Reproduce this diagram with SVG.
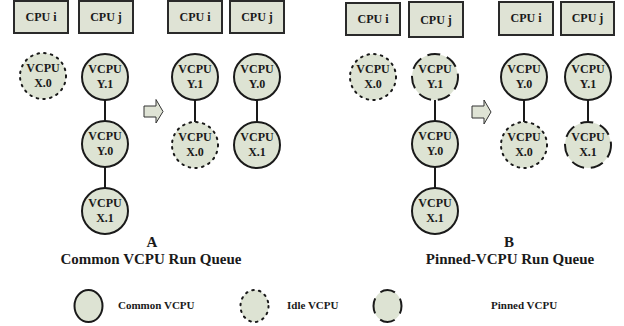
<svg xmlns="http://www.w3.org/2000/svg" width="624" height="326" viewBox="0 0 624 326">
<style>
.cpu rect{fill:#dfe3d5;stroke:#2a2a2a;stroke-width:2}
.t{font-family:"Liberation Serif","Times New Roman",serif;font-weight:bold;fill:#1a1a1a}
.cpu text{font-size:12px;text-anchor:middle}
.v circle,.v ellipse{fill:#dde3d3;stroke:#1a1a1a;stroke-width:2}
.idle circle,.idle ellipse{stroke-dasharray:1.6 5.2;stroke-linecap:round}
.pin circle,.pin ellipse{stroke-dasharray:13 7}
.v text{font-size:12px;text-anchor:middle}
.v text.leg{font-size:11px;text-anchor:start}
.conn line{stroke:#1a1a1a;stroke-width:2}
.arrow{fill:#dfe3d5;stroke:#333;stroke-width:1}
.title{font-size:15px;text-anchor:middle}
</style>
<rect width="624" height="326" fill="#fff"/>
<!-- CPU boxes -->
<g id="a-cpu-i-1" class="cpu"><rect x="14" y="1" width="54" height="32"/><text class="t" x="41" y="21">CPU i</text></g>
<g id="a-cpu-j-1" class="cpu"><rect x="79" y="1" width="54" height="32"/><text class="t" x="106" y="21">CPU j</text></g>
<g id="a-cpu-i-2" class="cpu"><rect x="168" y="1" width="54" height="32"/><text class="t" x="195" y="21">CPU i</text></g>
<g id="a-cpu-j-2" class="cpu"><rect x="230" y="1" width="54" height="32"/><text class="t" x="257" y="21">CPU j</text></g>
<g id="b-cpu-i-1" class="cpu"><rect x="346" y="3" width="54" height="32"/><text class="t" x="373" y="23">CPU i</text></g>
<g id="b-cpu-j-1" class="cpu"><rect x="409" y="2" width="54" height="35"/><text class="t" x="436" y="24">CPU j</text></g>
<g id="b-cpu-i-2" class="cpu"><rect x="499" y="2" width="54" height="33"/><text class="t" x="526" y="22">CPU i</text></g>
<g id="b-cpu-j-2" class="cpu"><rect x="561" y="2" width="53" height="33"/><text class="t" x="587.5" y="22">CPU j</text></g>
<!-- connectors -->
<g id="connectors" class="conn">
<line x1="105" y1="100" x2="105" y2="121"/>
<line x1="105" y1="167" x2="105" y2="188"/>
<line x1="195" y1="100" x2="195" y2="122"/>
<line x1="257" y1="100" x2="257" y2="122"/>
<line x1="435" y1="100" x2="435" y2="121"/>
<line x1="435" y1="167" x2="435" y2="188"/>
<line x1="524" y1="100" x2="524" y2="122"/>
<line x1="588" y1="100" x2="588" y2="122"/>
</g>
<!-- arrows -->
<g id="arrow-a"><path class="arrow" d="M144,106 H156 V99.5 L163,111.5 L156,123 V117 H144 Z"/></g>
<g id="arrow-b"><path class="arrow" d="M472,106 H484 V100 L491,112 L484,124 V118 H472 Z"/></g>
<!-- A nodes -->
<g id="a-x0-idle" class="v idle"><circle cx="43" cy="76" r="23"/><text class="t" x="43" y="72">VCPU</text><text class="t" x="43" y="87">X.0</text></g>
<g id="a-y1" class="v"><circle cx="105" cy="77" r="23"/><text class="t" x="105" y="73">VCPU</text><text class="t" x="105" y="88">Y.1</text></g>
<g id="a-y0" class="v"><circle cx="105" cy="144" r="23"/><text class="t" x="105" y="140">VCPU</text><text class="t" x="105" y="155">Y.0</text></g>
<g id="a-x1" class="v"><circle cx="105" cy="211" r="23"/><text class="t" x="105" y="207">VCPU</text><text class="t" x="105" y="222">X.1</text></g>
<g id="a-y1-r" class="v"><circle cx="195" cy="77" r="23"/><text class="t" x="195" y="73">VCPU</text><text class="t" x="195" y="88">Y.1</text></g>
<g id="a-y0-r" class="v"><circle cx="257" cy="77" r="23"/><text class="t" x="257" y="73">VCPU</text><text class="t" x="257" y="88">Y.0</text></g>
<g id="a-x0-r-idle" class="v idle"><circle cx="195" cy="145" r="23"/><text class="t" x="195" y="141">VCPU</text><text class="t" x="195" y="156">X.0</text></g>
<g id="a-x1-r" class="v"><circle cx="257" cy="145" r="23"/><text class="t" x="257" y="141">VCPU</text><text class="t" x="257" y="156">X.1</text></g>
<!-- B nodes -->
<g id="b-x0-idle" class="v idle"><circle cx="373" cy="77" r="23"/><text class="t" x="373" y="73">VCPU</text><text class="t" x="373" y="88">X.0</text></g>
<g id="b-y1-pin" class="v pin"><circle cx="435" cy="77" r="23"/><text class="t" x="435" y="73">VCPU</text><text class="t" x="435" y="88">Y.1</text></g>
<g id="b-y0" class="v"><circle cx="435" cy="144" r="23"/><text class="t" x="435" y="140">VCPU</text><text class="t" x="435" y="155">Y.0</text></g>
<g id="b-x1" class="v"><circle cx="435" cy="211" r="23"/><text class="t" x="435" y="207">VCPU</text><text class="t" x="435" y="222">X.1</text></g>
<g id="b-y0-r" class="v"><circle cx="524" cy="77" r="23"/><text class="t" x="524" y="73">VCPU</text><text class="t" x="524" y="88">Y.0</text></g>
<g id="b-y1-r" class="v"><circle cx="588" cy="77" r="23"/><text class="t" x="588" y="73">VCPU</text><text class="t" x="588" y="88">Y.1</text></g>
<g id="b-x0-r-idle" class="v idle"><circle cx="524" cy="145" r="23"/><text class="t" x="524" y="141">VCPU</text><text class="t" x="524" y="156">X.0</text></g>
<g id="b-x1-r-pin" class="v pin"><circle cx="588" cy="145" r="23"/><text class="t" x="588" y="141">VCPU</text><text class="t" x="588" y="156">X.1</text></g>
<!-- titles -->
<g id="title-a"><text class="t title" x="152" y="247">A</text><text class="t title" x="151" y="264">Common VCPU Run Queue</text></g>
<g id="title-b"><text class="t title" x="509" y="247">B</text><text class="t title" x="510" y="264">Pinned-VCPU Run Queue</text></g>
<!-- legend -->
<g id="legend-common" class="v"><ellipse cx="88.5" cy="306" rx="14" ry="16"/><text class="t leg" x="118" y="309">Common VCPU</text></g>
<g id="legend-idle" class="v idle"><ellipse cx="254.5" cy="306" rx="14" ry="16"/><text class="t leg" x="287" y="309">Idle VCPU</text></g>
<g id="legend-pinned" class="v pin"><ellipse cx="387.5" cy="306" rx="14" ry="16" style="stroke-dasharray:15.5 8;stroke-dashoffset:7.75"/><text class="t leg" x="491" y="309">Pinned VCPU</text></g>
</svg>
